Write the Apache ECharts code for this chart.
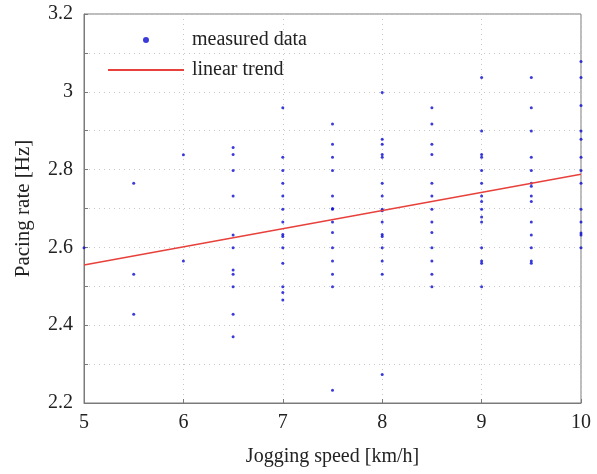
<!DOCTYPE html>
<html>
<head>
<meta charset="utf-8">
<script src="https://cdn.jsdelivr.net/npm/echarts@6/dist/echarts.min.js"></script>
<style>html,body{margin:0;padding:0;background:#fff}#c{width:597px;height:474px}</style>
</head>
<body>
<div id="c"></div>
<script>
// Measured data: speed [km/h] and pacing rate [Hz]
const speed5 = [2.599];
const speed55 = [2.765, 2.531, 2.428];
const speed6 = [2.838, 2.565];
const speed65 = [2.857, 2.839, 2.798, 2.732, 2.632, 2.599, 2.542, 2.531, 2.499, 2.428, 2.370];
const speed7 = [2.959, 2.832, 2.798, 2.765, 2.732, 2.698, 2.665, 2.633, 2.628, 2.599, 2.559, 2.499, 2.484, 2.465];
const speed75 = [2.917, 2.865, 2.832, 2.798, 2.732, 2.700, 2.698, 2.665, 2.638, 2.599, 2.565, 2.531, 2.499, 2.233];
const speed8 = [2.998, 2.878, 2.865, 2.839, 2.832, 2.765, 2.732, 2.698, 2.694, 2.665, 2.633, 2.628, 2.599, 2.565, 2.531, 2.273];
const speed85 = [2.959, 2.917, 2.865, 2.839, 2.765, 2.732, 2.698, 2.665, 2.638, 2.599, 2.565, 2.531, 2.499];
const speed9 = [3.037, 2.899, 2.839, 2.832, 2.798, 2.765, 2.732, 2.718, 2.698, 2.678, 2.665, 2.599, 2.565, 2.559, 2.499];
const speed95 = [3.037, 2.959, 2.899, 2.832, 2.798, 2.765, 2.757, 2.732, 2.718, 2.665, 2.632, 2.599, 2.565, 2.559];
const speed10 = [3.078, 3.037, 2.965, 2.899, 2.878, 2.832, 2.798, 2.765, 2.698, 2.665, 2.637, 2.632, 2.599];
const speedGroups = [[5, speed5], [5.5, speed55], [6, speed6], [6.5, speed65], [7, speed7], [7.5, speed75], [8, speed8], [8.5, speed85], [9, speed9], [9.5, speed95], [10, speed10]];
// Linear trend endpoints
const trendX = [5, 10];
const trendY = [2.555, 2.788];
const yTickLabels = {'2.2':'2.2','2.4':'2.4','2.6':'2.6','2.8':'2.8','3':'3','3.2':'3.2'};
const xTickLabels = ['5','6','7','8','9','10'];

const scatterData = [];
speedGroups.forEach(([s, arr]) => arr.forEach(v => scatterData.push([s, v])));
const lineData = trendX.map((x, i) => [x, trendY[i]]);

const font = 'Liberation Serif';
const chart = echarts.init(document.getElementById('c'));
chart.setOption({
  animation: false,
  backgroundColor: '#fff',
  grid: {left: 84, right: 16, top: 14, bottom: 71, show: true, borderColor: '#7a7a7a', borderWidth: 1},
  legend: [
    {data: ['measured data'], left: 138, top: 25, itemWidth: 6, itemHeight: 6, icon: 'circle',
     textStyle: {fontFamily: font, fontSize: 20, color: '#222', padding: [0, 0, 0, 38]}},
    {data: ['linear trend'], left: 103, top: 55, itemWidth: 76, itemHeight: 2, icon: 'rect',
     textStyle: {fontFamily: font, fontSize: 20, color: '#222', padding: [0, 0, 0, 3]}}
  ],
  xAxis: {
    type: 'value', min: 5, max: 10, interval: 1,
    name: 'Jogging speed [km/h]', nameLocation: 'middle', nameGap: 44,
    nameTextStyle: {fontFamily: font, fontSize: 20, color: '#222'},
    axisLine: {show: true, lineStyle: {color: '#7a7a7a'}},
    axisTick: {show: true, inside: true, length: 4, lineStyle: {color: '#7a7a7a'}},
    axisLabel: {fontFamily: font, fontSize: 20, color: '#222', margin: 10,
      formatter: v => xTickLabels[Math.round(v) - 5] || ''},
    splitLine: {show: true, lineStyle: {color: '#c8c8c8', type: [1, 4]}}
  },
  yAxis: {
    type: 'value', min: 2.2, max: 3.2, interval: 0.1,
    name: 'Pacing rate [Hz]', nameLocation: 'middle', nameGap: 50,
    nameTextStyle: {fontFamily: font, fontSize: 21, color: '#222'},
    axisLine: {show: true, lineStyle: {color: '#7a7a7a'}},
    axisTick: {show: true, inside: true, length: 4, lineStyle: {color: '#7a7a7a'}},
    axisLabel: {fontFamily: font, fontSize: 20, color: '#222', margin: 11,
      formatter: v => yTickLabels[String(Math.round(v * 10) / 10)] || ''},
    splitLine: {show: true, lineStyle: {color: '#c8c8c8', type: [1, 4]}}
  },
  series: [
    {name: 'measured data', type: 'scatter', data: scatterData, symbol: 'circle', symbolSize: 3,
     itemStyle: {color: '#0a0ad0'}, z: 3},
    {name: 'linear trend', type: 'line', data: lineData, showSymbol: false, symbol: 'none',
     lineStyle: {color: '#e8403a', width: 1.5}, itemStyle: {color: '#e8403a'}, z: 4}
  ]
});
</script>
</body>
</html>
